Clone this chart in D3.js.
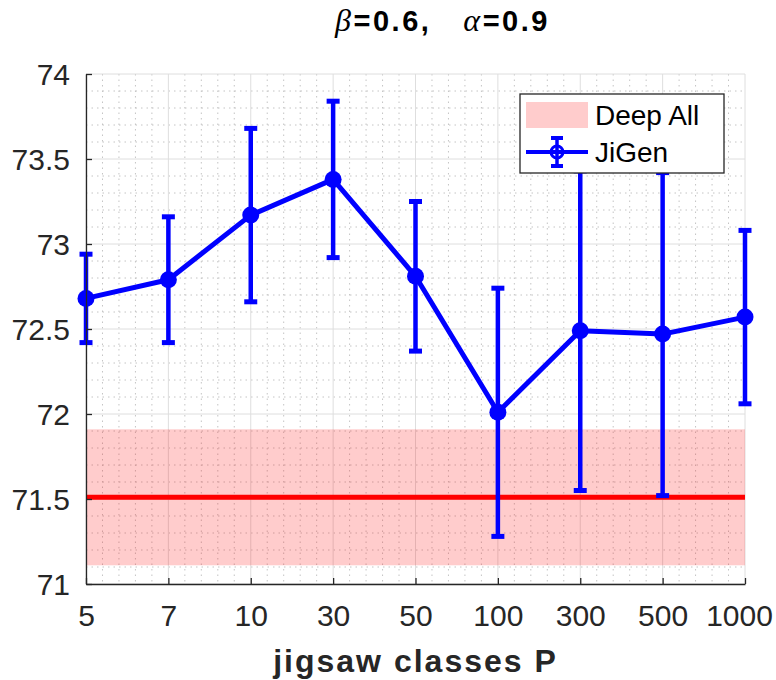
<!DOCTYPE html>
<html>
<head>
<meta charset="utf-8">
<script src="https://cdn.jsdelivr.net/npm/d3@7"></script>
<style>
  body { margin: 0; background: white; }
  text { font-family: "Liberation Sans", Arial, sans-serif; }
</style>
</head>
<body>
<div id="chart"></div>
<script>
// data
const classes = ["5", "7", "10", "30", "50", "100", "300", "500", "1000"];
const jigenMean = [72.68, 72.79, 73.17, 73.38, 72.81, 72.01, 72.49, 72.47, 72.57];
const jigenErr = [0.26, 0.37, 0.51, 0.46, 0.44, 0.73, 0.94, 0.95, 0.51];
const deepAll = 71.51;
const deepAllBand = [71.11, 71.91];
const yTicks = [71, 71.5, 72, 72.5, 73, 73.5, 74];

const width = 776;
const height = 680;
const margin = { left: 86, right: 31, top: 74, bottom: 96 };

const svg = d3.select("#chart")
  .append("svg")
  .attr("width", width)
  .attr("height", height)
  .style("background-color", "white");

const x = d3.scalePoint()
  .domain(classes)
  .range([margin.left, width - margin.right])
  .padding(0);

const y = d3.scaleLinear()
  .domain([71, 74])
  .range([height - margin.bottom, margin.top]);

const x0 = margin.left, x1 = width - margin.right;
const yTop = margin.top, yBot = height - margin.bottom;
const step = x.step();

// minor grid (dotted)
const minorY = d3.range(71, 74.0001, 0.1).filter(v => Math.abs(v * 2 - Math.round(v * 2)) > 1e-6);
const minorX = [];
classes.slice(0, -1).forEach(c => {
  for (let k = 1; k < 5; k++) minorX.push(x(c) + step * k / 5);
});

const grid = svg.append("g");
grid.selectAll(".mny").data(minorY).enter().append("line")
  .attr("x1", x0).attr("x2", x1)
  .attr("y1", d => y(d)).attr("y2", d => y(d))
  .attr("stroke", "#c4c4c4").attr("stroke-width", 1)
  .attr("stroke-dasharray", "1.5,4");
grid.selectAll(".mnx").data(minorX).enter().append("line")
  .attr("x1", d => d).attr("x2", d => d)
  .attr("y1", yTop).attr("y2", yBot)
  .attr("stroke", "#c4c4c4").attr("stroke-width", 1)
  .attr("stroke-dasharray", "1.5,4");

// major grid
grid.selectAll(".mjy").data(yTicks).enter().append("line")
  .attr("x1", x0).attr("x2", x1)
  .attr("y1", d => y(d)).attr("y2", d => y(d))
  .attr("stroke", "#dedede").attr("stroke-width", 1);
grid.selectAll(".mjx").data(classes).enter().append("line")
  .attr("x1", d => x(d)).attr("x2", d => x(d))
  .attr("y1", yTop).attr("y2", yBot)
  .attr("stroke", "#dedede").attr("stroke-width", 1);

// Deep All band + line
svg.append("rect")
  .attr("x", x0)
  .attr("y", y(deepAllBand[1]))
  .attr("width", x1 - x0)
  .attr("height", y(deepAllBand[0]) - y(deepAllBand[1]))
  .attr("fill", "#ff0000")
  .attr("fill-opacity", 0.2);

svg.append("line")
  .attr("x1", x0).attr("x2", x1)
  .attr("y1", y(deepAll)).attr("y2", y(deepAll))
  .attr("stroke", "#ff0000").attr("stroke-width", 5);

// JiGen error bars
const blue = "#0000ff";
const pts = classes.map((c, i) => ({ c: c, m: jigenMean[i], e: jigenErr[i] }));
const eb = svg.append("g");
eb.selectAll(".v").data(pts).enter().append("line")
  .attr("x1", d => x(d.c)).attr("x2", d => x(d.c))
  .attr("y1", d => y(d.m - d.e)).attr("y2", d => y(d.m + d.e))
  .attr("stroke", blue).attr("stroke-width", 4.5);
["lo", "hi"].forEach(s => {
  eb.selectAll(".cap" + s).data(pts).enter().append("line")
    .attr("x1", d => x(d.c) - 6.5).attr("x2", d => x(d.c) + 6.5)
    .attr("y1", d => y(s === "lo" ? d.m - d.e : d.m + d.e))
    .attr("y2", d => y(s === "lo" ? d.m - d.e : d.m + d.e))
    .attr("stroke", blue).attr("stroke-width", 5);
});

svg.append("path")
  .datum(pts)
  .attr("fill", "none")
  .attr("stroke", blue)
  .attr("stroke-width", 5)
  .attr("stroke-linejoin", "round")
  .attr("d", d3.line().x(d => x(d.c)).y(d => y(d.m)));

svg.selectAll(".pt").data(pts).enter().append("circle")
  .attr("cx", d => x(d.c)).attr("cy", d => y(d.m))
  .attr("r", 8.5).attr("fill", blue);

// axes (left & bottom)
const yAxis = d3.axisLeft(y).tickValues(yTicks).tickSizeInner(-6).tickSizeOuter(0)
  .tickPadding(16).tickFormat(d => d3.format("")(d));
const gy = svg.append("g").attr("transform", `translate(${x0},0)`).call(yAxis);
const xAxis = d3.axisBottom(x).tickSizeInner(-6).tickSizeOuter(0).tickPadding(21);
const gx = svg.append("g").attr("transform", `translate(0,${yBot})`).call(xAxis);
[gy, gx].forEach(g => {
  g.select(".domain").attr("stroke", "#262626").attr("stroke-width", 1.3);
  g.selectAll(".tick line").attr("stroke", "#262626").attr("stroke-width", 1.3);
  g.selectAll(".tick text")
    .attr("fill", "#262626")
    .style("font-size", "30px")
    .style("font-family", "Liberation Sans, Arial, sans-serif");
});
gx.selectAll(".tick text").attr("dy", "0.71em");
// keep the last label inside the page, as in the reference
gx.selectAll(".tick text").filter(d => d === "1000").attr("x", -6);
gy.selectAll(".tick text").attr("dy", "0.36em");

// x label
svg.append("text")
  .attr("x", (x0 + x1) / 2)
  .attr("y", 672)
  .attr("text-anchor", "middle")
  .style("font-size", "32px")
  .style("font-weight", "bold")
  .style("letter-spacing", "2px")
  .attr("fill", "#262626")
  .text("jigsaw classes P");

// title
const title = svg.append("text")
  .attr("x", (x0 + x1) / 2 + 27)
  .attr("y", 31)
  .attr("text-anchor", "middle")
  .style("font-size", "29px")
  .style("font-weight", "bold")
  .style("letter-spacing", "2.5px")
  .attr("fill", "#000");
title.append("tspan").style("font-family", "Liberation Serif, serif").style("font-style", "italic").style("font-weight", "normal").style("font-size", "32px").text("β");
title.append("tspan").text("=0.6,");
title.append("tspan").attr("dx", 32).style("font-family", "Liberation Serif, serif").style("font-style", "italic").style("font-weight", "normal").style("font-size", "32px").text("α");
title.append("tspan").text("=0.9");

// legend
const lg = svg.append("g").attr("transform", "translate(520,94)");
lg.append("rect")
  .attr("width", 204).attr("height", 79)
  .attr("fill", "white").attr("stroke", "#262626").attr("stroke-width", 1.3);
lg.append("rect")
  .attr("x", 6).attr("y", 8).attr("width", 62).attr("height", 26)
  .attr("fill", "#ff0000").attr("fill-opacity", 0.2);
lg.append("text").attr("x", 75).attr("y", 31)
  .style("font-size", "28px").attr("fill", "#000").text("Deep All");
lg.append("line").attr("x1", 6).attr("x2", 68).attr("y1", 58).attr("y2", 58)
  .attr("stroke", blue).attr("stroke-width", 4);
lg.append("line").attr("x1", 37).attr("x2", 37).attr("y1", 44).attr("y2", 72)
  .attr("stroke", blue).attr("stroke-width", 3.5);
[44, 72].forEach(v => lg.append("line").attr("x1", 31).attr("x2", 43).attr("y1", v).attr("y2", v)
  .attr("stroke", blue).attr("stroke-width", 4));
lg.append("circle").attr("cx", 37).attr("cy", 58).attr("r", 6)
  .attr("fill", "none").attr("stroke", blue).attr("stroke-width", 3);
lg.append("text").attr("x", 75).attr("y", 68)
  .style("font-size", "28px").attr("fill", "#000").text("JiGen");
</script>
</body>
</html>
